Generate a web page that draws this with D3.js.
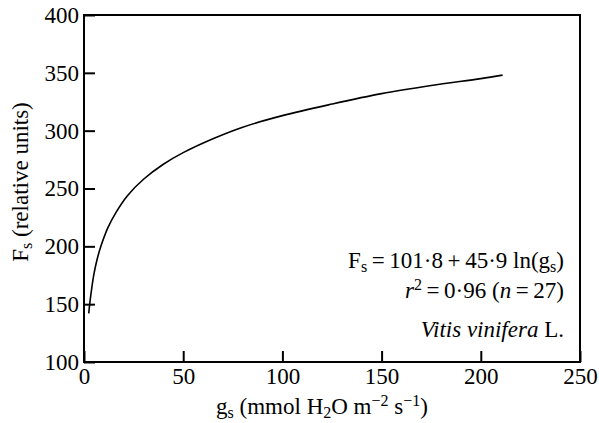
<!DOCTYPE html>
<html>
<head>
<meta charset="utf-8">
<script src="https://cdn.jsdelivr.net/npm/d3@7"></script>
<style>
  body { margin: 0; background: #fff; }
</style>
</head>
<body>
<div id="chart"></div>
<script>
    // fitted curve (gs, Fs)
    var gsValues = [2.4, 3, 4, 5, 6.5, 8.5, 12, 16, 22, 30, 40, 50, 65, 80, 100, 125, 150, 175, 200, 211]
    var fsValues = [142, 152, 165, 176, 188, 200, 216, 229, 244, 258, 271, 281, 293, 303, 313, 323, 332, 339, 345, 348]

    var xTicks = [0, 50, 100, 150, 200, 250]
    var yTicks = [100, 150, 200, 250, 300, 350, 400]

    var width = 599, height = 423
    var margin = {left: 84, top: 15, right: 19, bottom: 61}
    var plotW = width - margin.left - margin.right
    var plotH = height - margin.top - margin.bottom
    var fontSize = 23
    var smallSize = 16
    var serif = "Liberation Serif, Times New Roman, serif"

    var svg = d3.select("#chart").append("svg")
        .attr("width", width)
        .attr("height", height)
        .attr("font-family", serif)

    var g = svg.append("g")
        .attr("transform", `translate(${margin.left},${margin.top})`)

    var x = d3.scaleLinear().domain([0, 250]).range([0, plotW])
    var y = d3.scaleLinear().domain([100, 400]).range([plotH, 0])

    function styleAxis(sel) {
        sel.attr("font-family", serif).attr("font-size", fontSize)
        sel.select(".domain").remove()
        sel.selectAll(".tick line").attr("stroke", "#000").attr("stroke-width", 2)
        sel.selectAll(".tick text").attr("fill", "#000")
    }

    g.append("g")
        .attr("transform", `translate(0,${plotH})`)
        .call(d3.axisBottom(x).tickValues(xTicks).tickSizeInner(-11).tickSizeOuter(0).tickPadding(6))
        .call(styleAxis)

    g.append("g")
        .call(d3.axisLeft(y).tickValues(yTicks).tickSizeInner(-11).tickSizeOuter(0).tickPadding(5))
        .call(styleAxis)

    // frame round the plot
    g.append("rect")
        .attr("x", 0).attr("y", 0)
        .attr("width", plotW).attr("height", plotH)
        .attr("fill", "none")
        .attr("stroke", "#000")
        .attr("stroke-width", 2)

    var line = d3.line()
        .x(d => x(d[0]))
        .y(d => y(d[1]))
        .curve(d3.curveCatmullRom.alpha(0.5))

    g.append("path")
        .datum(d3.zip(gsValues, fsValues))
        .attr("d", line)
        .attr("fill", "none")
        .attr("stroke", "#000")
        .attr("stroke-width", 1.6)

    function label(xPos, yPos, anchor) {
        return svg.append("text")
            .attr("x", xPos).attr("y", yPos)
            .attr("text-anchor", anchor)
            .attr("font-size", fontSize)
    }
    function sub(t, txt) { t.append("tspan").attr("dy", 4).attr("font-size", smallSize).text(txt) }
    function sup(t, txt) { t.append("tspan").attr("dy", -8).attr("font-size", smallSize).text(txt) }
    function plain(t, txt, dy) { t.append("tspan").attr("dy", dy || 0).text(txt) }

    // x axis title
    var xt = label(322, 414, "middle")
    plain(xt, "g")
    sub(xt, "s")
    plain(xt, " (mmol H", -4)
    sub(xt, "2")
    plain(xt, "O m", -4)
    sup(xt, "\u22122")
    plain(xt, " s", 8)
    sup(xt, "\u22121")
    plain(xt, ")", 8)

    // y axis title
    var yt = svg.append("text")
        .attr("transform", "translate(28,182) rotate(-90)")
        .attr("text-anchor", "middle")
        .attr("font-size", fontSize)
    plain(yt, "F")
    sub(yt, "s")
    plain(yt, " (relative units)", -4)

    // equation and species note
    var noteX = 564
    var eq = label(noteX, 268, "end")
    plain(eq, "F")
    sub(eq, "s")
    plain(eq, "\u2009=\u2009101\u00b78\u2009+\u200945\u00b79 ln(g", -4)
    sub(eq, "s")
    plain(eq, ")", -4)

    var r2 = label(noteX, 298, "end")
    r2.append("tspan").attr("font-style", "italic").text("r")
    sup(r2, "2")
    plain(r2, "\u2009=\u20090\u00b796 (", 8)
    r2.append("tspan").attr("font-style", "italic").text("n")
    plain(r2, "\u2009=\u200927)")

    var sp = label(noteX, 337, "end")
    sp.append("tspan").attr("font-style", "italic").text("Vitis vinifera")
    plain(sp, " L.")
</script>
</body>
</html>
